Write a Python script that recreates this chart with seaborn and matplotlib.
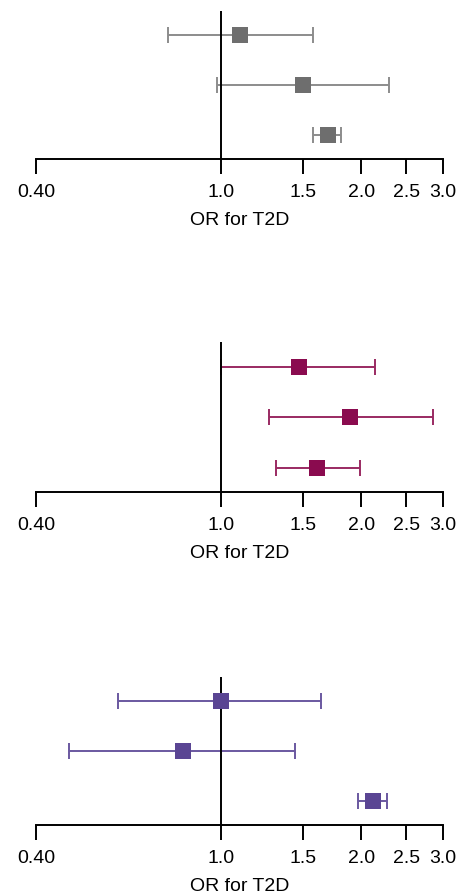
import numpy as np
import pandas as pd
import matplotlib
matplotlib.use("Agg")
from matplotlib import pyplot as plt
import seaborn as sb

# data (OR with 95% CI), rows top to bottom
row = [1, 2, 3]
or_top = [1.10, 1.50, 1.70]
lo_top = [0.77, 0.98, 1.58]
hi_top = [1.58, 2.30, 1.81]

or_mid = [1.47, 1.89, 1.61]
lo_mid = [1.00, 1.27, 1.31]
hi_mid = [2.14, 2.85, 1.99]

or_bot = [1.00, 0.83, 2.12]
lo_bot = [0.60, 0.47, 1.97]
hi_bot = [1.64, 1.44, 2.27]

ticks = [0.40, 1.0, 1.5, 2.0, 2.5, 3.0]
tick_labels = ["0.40", "1.0", "1.5", "2.0", "2.5", "3.0"]

panels = [
    (or_top, lo_top, hi_top, "#6e6e6e", "#8c8c8c"),
    (or_mid, lo_mid, hi_mid, "#8a0b4f", "#9a2a62"),
    (or_bot, lo_bot, hi_bot, "#5a4593", "#6a58a0"),
]

sb.set_style("white")
plt.rcParams["font.family"] = ["Liberation Sans", "DejaVu Sans"]

W, H = 463, 895
fig = plt.figure(figsize=(W / 100, H / 100), dpi=100)

# pixel layout of each panel: (top of ref line, axis line)
boxes = [(12, 160), (343, 493), (678, 826)]
left, right = 36, 443

for (orv, lo, hi, mcol, lcol), (top, bot) in zip(panels, boxes):
    ax = fig.add_axes([left / W, 1 - bot / H, (right - left) / W, (bot - top) / H])
    df = pd.DataFrame({"row": row, "OR": orv, "lo": lo, "hi": hi})

    ax.errorbar(df["OR"], df["row"],
                xerr=[df["OR"] - df["lo"], df["hi"] - df["OR"]],
                fmt="none", ecolor=lcol, elinewidth=1.4, capsize=5.5,
                capthick=1.4, zorder=2)
    ax.axvline(1.0, color="black", lw=1.4, zorder=3)
    sb.scatterplot(data=df, x="OR", y="row", marker="s", s=140,
                   color=mcol, edgecolor=mcol, linewidth=0, ax=ax, zorder=4)

    ax.set_xscale("log")
    ax.set_xlim(0.40, 3.0)
    ax.set_ylim(3.48, 0.51)
    ax.set_xticks(ticks)
    ax.set_xticklabels(tick_labels)
    ax.minorticks_off()
    ax.set_yticks([])
    ax.set_ylabel("")
    ax.set_xlabel("OR for T2D", fontsize=14, labelpad=8, color="black")
    ax.tick_params(axis="x", direction="out", length=11, width=1.4,
                   labelsize=14, pad=6, color="black", labelcolor="black",
                   bottom=True)
    for s in ["top", "right", "left"]:
        ax.spines[s].set_visible(False)
    ax.spines["bottom"].set_linewidth(1.4)
    ax.spines["bottom"].set_color("black")
    ax.patch.set_alpha(0)

fig.savefig("out.png", dpi=100)
plt.close()
